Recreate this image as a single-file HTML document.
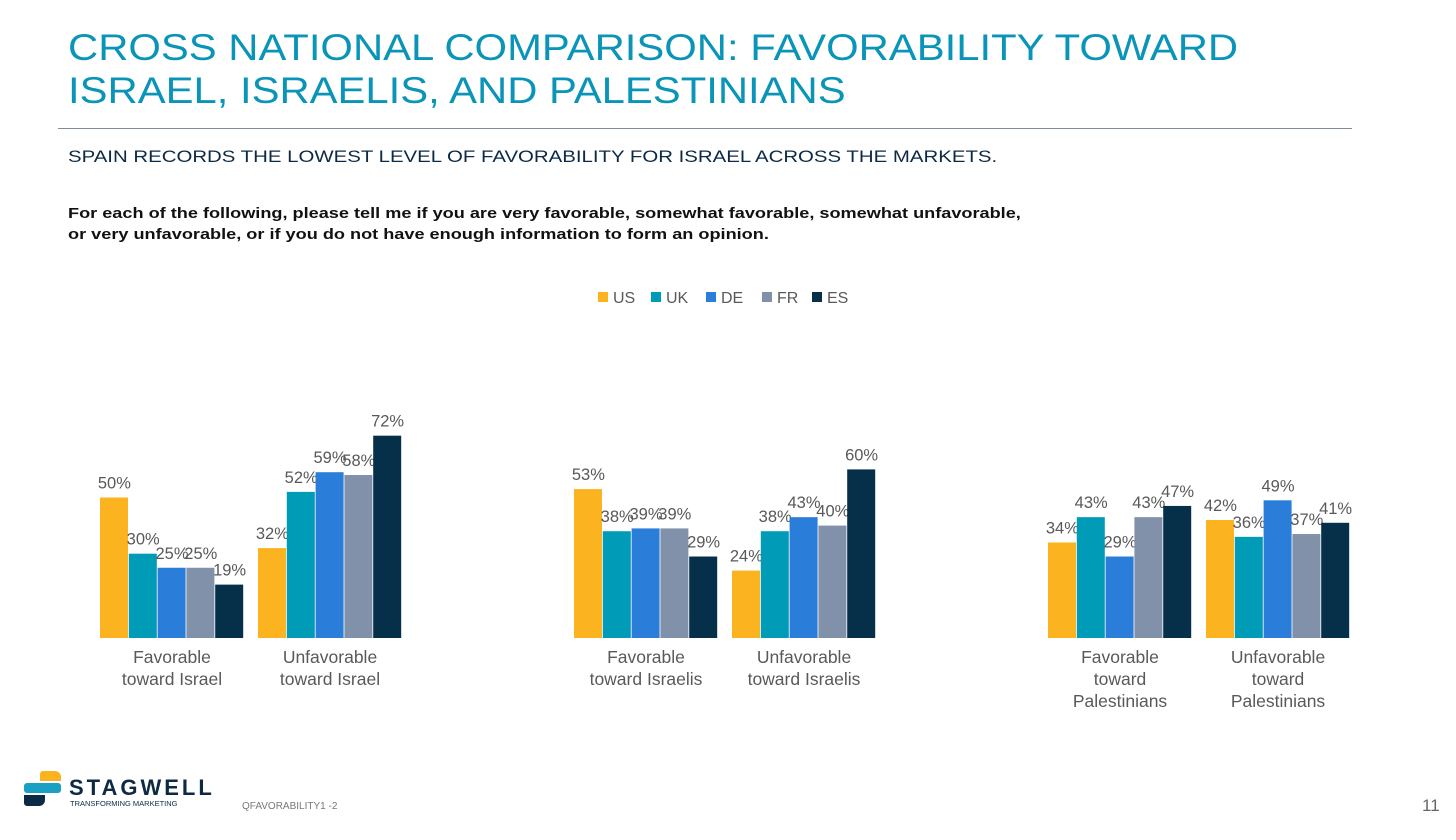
<!DOCTYPE html>
<html><head><meta charset="utf-8"><style>
body{margin:0;background:#fff;font-family:"Liberation Sans",sans-serif;}
#page{position:relative;width:1456px;height:840px;overflow:hidden;}
.t{position:absolute;white-space:nowrap;transform-origin:0 0;}
</style></head><body><div id="page">
<div class="t" style="left:68px;top:26px;font-size:37px;line-height:43px;color:#0A95B8;transform:scaleX(1.13);">CROSS NATIONAL COMPARISON: FAVORABILITY TOWARD<br>ISRAEL, ISRAELIS, AND PALESTINIANS</div>
<div style="position:absolute;left:58px;top:128px;width:1294px;height:1px;background:#7d8c98;"></div>
<div class="t" style="left:68px;top:147px;font-size:17px;color:#0d2a44;transform:scaleX(1.2);">SPAIN RECORDS THE LOWEST LEVEL OF FAVORABILITY FOR ISRAEL ACROSS THE MARKETS.</div>
<div class="t" style="left:68px;top:204px;font-size:14.5px;line-height:21px;font-weight:bold;color:#111;transform:scaleX(1.25);">For each of the following, please tell me if you are very favorable, somewhat favorable, somewhat unfavorable,<br>or very unfavorable, or if you do not have enough information to form an opinion.</div>
<svg id="chart" width="1456" height="840" style="position:absolute;left:0;top:0;"></svg>
<div style="position:absolute;left:24px;top:771px;">
<div style="position:absolute;left:16px;top:0;width:21px;height:10px;background:#FBB41F;border-radius:3px 6px 0 0;"></div>
<div style="position:absolute;left:0;top:12px;width:37px;height:10px;background:#1AA0C2;border-radius:3px;"></div>
<div style="position:absolute;left:0;top:24px;width:21px;height:11px;background:#0d2a44;border-radius:0 0 6px 3px;"></div>
<div class="t" style="left:45px;top:4px;font-size:22px;font-weight:bold;letter-spacing:3px;color:#0d2a44;">STAGWELL</div>
<div class="t" style="left:46px;top:28px;font-size:7.5px;color:#0d2a44;">TRANSFORMING MARKETING</div>
</div>
<div class="t" style="left:242px;top:801px;font-size:10px;color:#777;">QFAVORABILITY1 -2</div>
<div class="t" style="left:1422px;top:796px;font-size:17px;color:#666;">11</div>
</div>
<script>
const series=["US","UK","DE","FR","ES"];
const categories=[["Favorable","toward Israel"],["Unfavorable","toward Israel"],["Favorable","toward Israelis"],["Unfavorable","toward Israelis"],["Favorable","toward","Palestinians"],["Unfavorable","toward","Palestinians"]];
const usVals=[50,32,53,24,34,42];
const ukVals=[30,52,38,38,43,36];
const deVals=[25,59,39,43,29,49];
const frVals=[25,58,39,40,43,37];
const esVals=[19,72,29,60,47,41];
const vals=[usVals,ukVals,deVals,frVals,esVals];
const colors=["#FBB41F","#009BB7","#2A7DD8","#8191A9","#06304A"];
const groupX=[100,258,574,732,1048,1206];
const base=638,pps=2.81,bw=28.8;
const y=v=>base-v*pps;
const svg=document.getElementById('chart');const NS="http://www.w3.org/2000/svg";
function mk(t,a){const e=document.createElementNS(NS,t);for(const k in a)e.setAttribute(k,a[k]);svg.appendChild(e);return e;}
categories.forEach((c,i)=>{
  series.forEach((s,j)=>{
    const v=vals[j][i];const x=groupX[i]+j*bw;
    const r=mk('rect',{x:x,y:y(v),width:bw-0.8,height:v*pps,fill:colors[j]});
    
    
    const t=mk('text',{x:x+bw/2,y:y(v)-9,'text-anchor':'middle','font-size':16.5,fill:'#595959','font-family':'Liberation Sans, sans-serif'});
    t.textContent=v+'%';
    
    
  });
  c.forEach((ln,k)=>{
    const t=mk('text',{x:groupX[i]+bw*2.5,y:663+k*22,'text-anchor':'middle','font-size':17.5,fill:'#595959','font-family':'Liberation Sans, sans-serif'});
    t.textContent=ln;
    
    
  });
});
series.forEach((s,j)=>{
  const lx=[598,651,706,762,812][j];
  const r=mk('rect',{x:lx,y:292,width:10,height:10,fill:colors[j]});
  
  
  const t=mk('text',{x:lx+15,y:303,'font-size':16,fill:'#595959','font-family':'Liberation Sans, sans-serif'});
  t.textContent=s;
  
  
});
</script>
</body></html>
